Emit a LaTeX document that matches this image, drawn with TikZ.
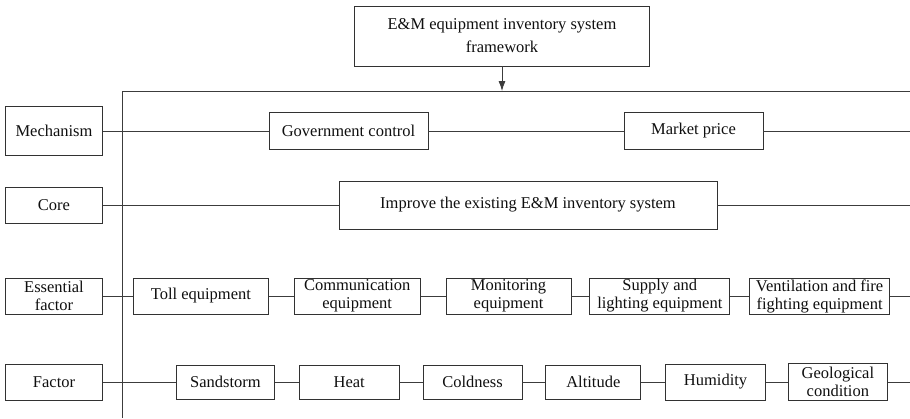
\documentclass[tikz,border=0pt]{standalone}
\usepackage{fontspec}
\setmainfont{Liberation Serif}
\usetikzlibrary{arrows.meta, positioning}
\definecolor{boxline}{RGB}{50,50,50}
\definecolor{linkline}{RGB}{60,60,60}
\definecolor{labeltext}{RGB}{15,15,15}
\tikzset{
  % Title box on top
  titlebox/.style={
    rectangle, minimum width=295pt, minimum height=60pt,
    draw=boxline, line width=0.8pt, inner sep=1pt,
    text=labeltext, font=\fontsize{16.5}{23}\selectfont, align=center
  },
  % Left column label
  sidebox/.style={
    rectangle, minimum width=97pt, minimum height=36pt,
    draw=boxline, line width=0.8pt, inner sep=1pt,
    text=labeltext, font=\fontsize{16.5}{18}\selectfont, align=center
  },
  % Box in a row
  itembox/.style={
    rectangle, minimum height=36pt,
    draw=boxline, line width=0.8pt, inner sep=1pt,
    text=labeltext, font=\fontsize{16.5}{18}\selectfont, align=center
  },
  % Plain connector
  link/.style={
    draw=linkline, line width=0.8pt
  },
  % Arrow style
  arr/.style={
    -{Latex[length=10pt, width=7pt]}, link
  },
}
\begin{document}
\begin{tikzpicture}[x=1pt, y=-1pt]
  \useasboundingbox (0,0) rectangle (910,418);

  % title and frame
  \node[titlebox] (title) at (502,36) {E\&M equipment inventory system\\framework};
  \coordinate (tl) at (122,91);
  \coordinate (tr) at (910,91);
  \coordinate (bl) at (122,418);
  \draw[link] (tr) -- (tl) -- (bl);
  \draw[arr] (title.south) -- (title.south |- tl);

  % mechanism
  \node[sidebox, minimum height=49pt] (mech) at (54,131) {Mechanism};
  \node[itembox, minimum width=159pt, minimum height=37pt] (gov) at (348.5,131) {Government control};
  \node[itembox, minimum width=139pt, minimum height=37pt] (price) at (693.5,131) {Market price};
  \coordinate (mech-end) at (910,131);
  \draw[link] (mech) -- (gov) -- (price) -- (mech-end);

  % core
  \node[sidebox] (core) at (54,205) {Core};
  \node[itembox, minimum width=378pt, minimum height=48pt] (improve) at (528,205) {Improve the existing E\&M inventory system};
  \coordinate (core-end) at (910,205);
  \draw[link] (core) -- (improve) -- (core-end);

  % essential factor
  \node[sidebox] (essential) at (54,296) {Essential\\factor};
  \node[itembox, minimum width=135pt, anchor=west] (toll) at (133,296) {Toll equipment};
  \node[itembox, minimum width=126pt, right=25pt of toll] (comm) {Communication\\equipment};
  \node[itembox, minimum width=125pt, right=25pt of comm] (monitor) {Monitoring\\equipment};
  \node[itembox, minimum width=140pt, right=18pt of monitor] (supply) {Supply and\\lighting equipment};
  \node[itembox, minimum width=140pt, right=19pt of supply] (vent) {Ventilation and fire\\fighting equipment};
  \coordinate (essential-end) at (910,296);
  \draw[link] (essential) -- (toll) -- (comm) -- (monitor) -- (supply) -- (vent) -- (essential-end);

  % factor
  \node[sidebox] (factor) at (54,382) {Factor};
  \node[itembox, minimum width=98pt, minimum height=34pt, anchor=west] (sand) at (176,382) {Sandstorm};
  \node[itembox, minimum width=100pt, minimum height=34pt, right=24pt of sand] (heat) {Heat};
  \node[itembox, minimum width=99pt, minimum height=34pt, right=23pt of heat] (cold) {Coldness};
  \node[itembox, minimum width=95pt, minimum height=34pt, right=23pt of cold] (alt) {Altitude};
  \node[itembox, minimum width=100pt, right=24pt of alt] (humid) {Humidity};
  \node[itembox, minimum width=99pt, minimum height=37pt, right=22pt of humid] (geo) {Geological\\condition};
  \coordinate (factor-end) at (910,382);
  \draw[link] (factor) -- (sand) -- (heat) -- (cold) -- (alt) -- (humid) -- (geo) -- (factor-end);
\end{tikzpicture}
\end{document}
